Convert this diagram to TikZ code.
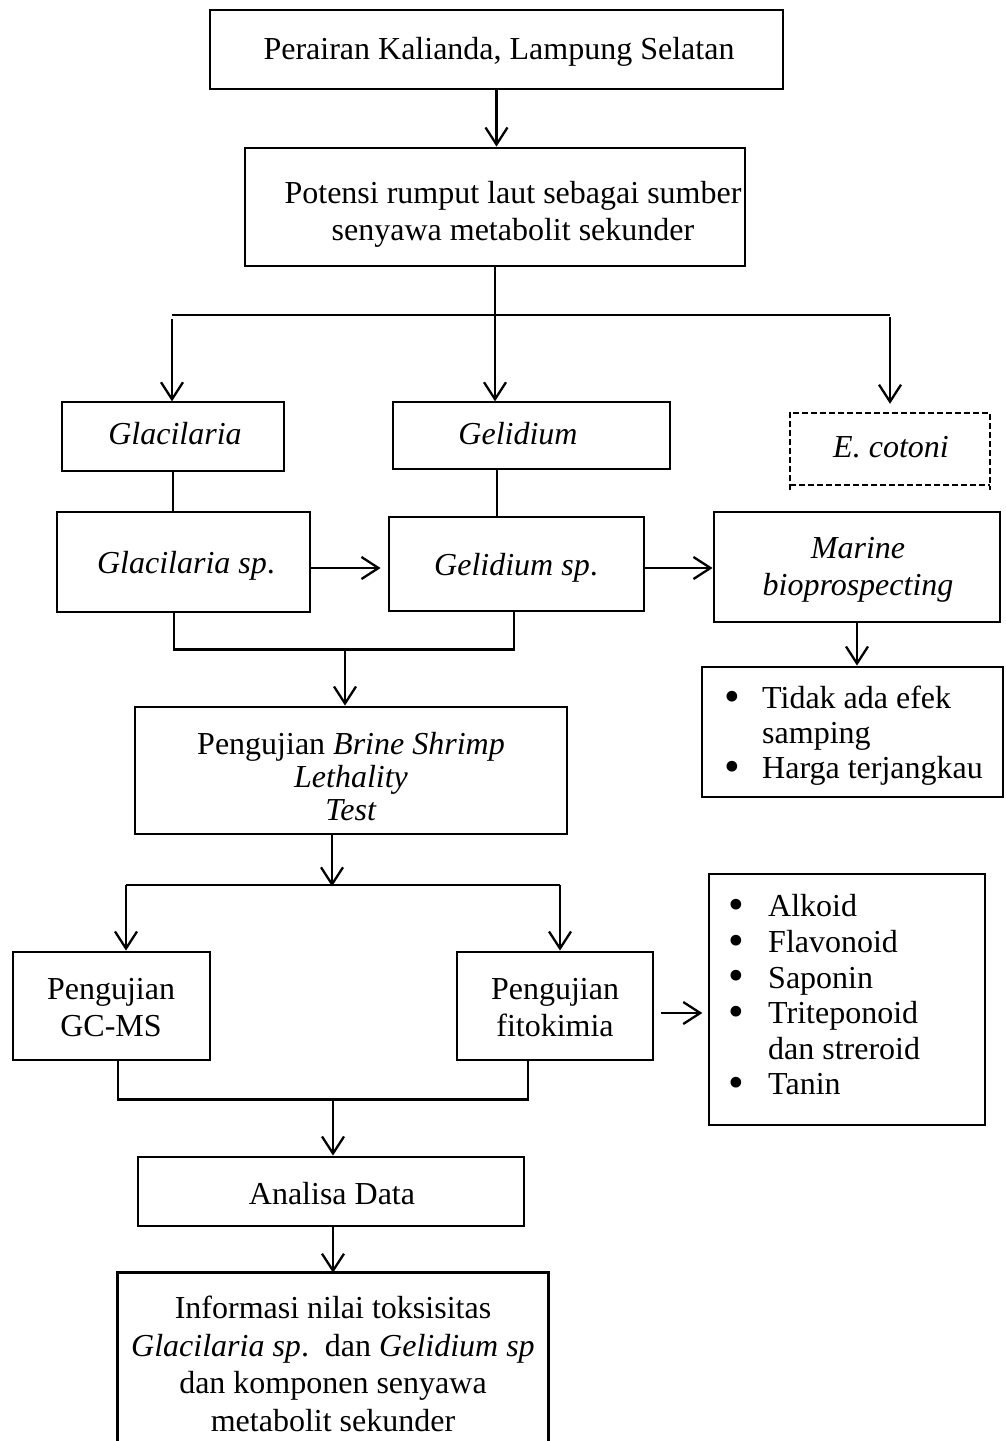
\documentclass[tikz,border=0pt]{standalone}
\usepackage{fontspec}
\usepackage{graphicx}
\setmainfont{Liberation Serif}
\usetikzlibrary{arrows.meta}
\newcommand{\bul}{\smash{\raisebox{-2.5pt}{\scalebox{1.4}{•}}}}
\begin{document}
\begin{tikzpicture}[x=1pt,y=-1pt,
  every node/.style={font=\fontsize{32}{37}\selectfont, inner sep=0pt, align=center},
  thickbox/.style={draw, line width=2.8pt},
  thinbox/.style={draw, line width=1.3pt},
  arr/.style={line width=2.3pt, -{Straight Barb[length=17pt,width=22pt]}},
  ln/.style={line width=2.3pt},
  dashbox/.style={line width=1.6pt, dash pattern=on 6pt off 3pt},
]
\useasboundingbox (0,0) rectangle (1005,1441);

% boxes
\node[thickbox, minimum width=573pt, minimum height=79pt] (b1) at (496.5,49.5) {};
\node (b1t) at (499,52) {Perairan Kalianda, Lampung Selatan};
\node[thickbox, minimum width=500pt, minimum height=118pt] (b2) at (495,207) {};
\node (b2t) at (513,214) {Potensi rumput laut sebagai sumber\\senyawa metabolit sekunder};

\node[thinbox, minimum width=222pt, minimum height=69pt] (gla) at (173,436.5) {};
\node (glat) at (175,434) {\textit{Glacilaria}};
\node[thinbox, minimum width=277pt, minimum height=67pt] (gel) at (531.5,435.5) {};
\node (gelt) at (518,434) {\textit{Gelidium}};
\node[minimum width=200pt, minimum height=72pt] (eco) at (890,449) {};
\node (ecot) at (891,447) {\textit{E. cotoni}};
\draw[dashbox] ([yshift=-5pt]eco.south west) -- (eco.north west) -- (eco.north east) -- ([yshift=-5pt]eco.south east);
\draw[dashbox] (eco.south west) -- (eco.south east);

\node[thickbox, minimum width=253pt, minimum height=100pt] (glasp) at (183.5,562) {};
\node (glaspt) at (186,566) {\textit{Glacilaria sp}.};
\node[thickbox, minimum width=255pt, minimum height=94pt] (gelsp) at (516.5,564) {};
\node (gelspt) at (516,568) {\textit{Gelidium sp}.};
\node[thickbox, minimum width=286pt, minimum height=110pt] (mar) at (857,567) {};
\node (mart) at (858,570) {\textit{Marine}\\\textit{bioprospecting}};
\node[thickbox, minimum width=301pt, minimum height=130pt] (bul1) at (852.5,732) {};
\node[anchor=west, align=left, font=\fontsize{32}{35}\selectfont] (bul1t) at (724,736)
  {\makebox[38pt][l]{\bul}Tidak ada efek\\\hspace*{38pt}samping\\\makebox[38pt][l]{\bul}Harga terjangkau};

\node[thickbox, minimum width=432pt, minimum height=127pt] (bslt) at (351,770.5) {};
\node[font=\fontsize{32}{33}\selectfont] (bsltt) at (351,777) {Pengujian \textit{Brine Shrimp}\\\textit{Lethality}\\\textit{Test}};

\node[thickbox, minimum width=197pt, minimum height=108pt] (gcms) at (111.5,1006) {};
\node (gcmst) at (111,1008) {Pengujian\\GC-MS};
\node[thickbox, minimum width=196pt, minimum height=108pt] (fito) at (555,1006) {};
\node (fitot) at (555,1008) {Pengujian\\fitokimia};
\node[thinbox, minimum width=276pt, minimum height=251pt] (bul2) at (847,999.5) {};
\node[anchor=west, align=left, font=\fontsize{32}{35.6}\selectfont] (bul2t) at (728,995)
  {\makebox[40pt][l]{\bul}Alkoid\\\makebox[40pt][l]{\bul}Flavonoid\\\makebox[40pt][l]{\bul}Saponin\\\makebox[40pt][l]{\bul}Triteponoid\\\hspace*{40pt}dan streroid\\\makebox[40pt][l]{\bul}Tanin};

\node[thickbox, minimum width=386pt, minimum height=69pt] (ana) at (331,1191.5) {};
\node (anat) at (332,1194) {Analisa Data};
\node[minimum width=430pt, minimum height=180pt] (fin) at (333,1363) {};
\draw[line width=2.8pt] (fin.south west) -- (fin.north west) -- (fin.north east) -- (fin.south east);
\node[font=\fontsize{32}{37.7}\selectfont] (fint) at (333,1364)
  {Informasi nilai toksisitas\\\textit{Glacilaria sp}.\ \ dan \textit{Gelidium sp}\\dan komponen senyawa\\metabolit sekunder};

% connectors
\draw[arr] (b1.south) -- (b1.south |- b2.north);
\draw[ln] (b2.south) -- ++(0,49) coordinate (j1);
\coordinate (hl) at (172,315);
\coordinate (hr) at (890,315);
\draw[ln] (hl) -- (hr);
\draw[arr] ([yshift=-4pt]hl) -- (hl |- gla.north);
\draw[arr] (j1) -- (j1 |- gel.north);
\draw[arr, shorten >=9pt] ([yshift=-2pt]hr) -- (hr |- eco.north);

\draw[ln] (gla.south) -- (gla.south |- glasp.north);
\draw[ln] ([xshift=-34.5pt]gel.south) -- ([xshift=-34.5pt]gel.south |- gelsp.north);

\draw[arr, shorten >=7pt] ([yshift=-6pt]glasp.east) -- ([yshift=-6pt]glasp.east -| gelsp.west);
\draw[arr] ([yshift=-4pt]gelsp.east) -- ([yshift=-4pt]gelsp.east -| mar.west);
\draw[arr] (mar.south) -- (mar.south |- bul1.north);

\draw[ln] ([xshift=-9.5pt]glasp.south) -- ++(0,36) coordinate (k1) -- (k1 -| 514,0) coordinate (k3) -- ([xshift=-2.5pt]gelsp.south);
\coordinate (k2) at (345,648);
\draw[arr] (k2) -- (k2 |- bslt.north);

\draw[arr] ([xshift=-19pt]bslt.south) -- ++(0,51) coordinate (m0);
\coordinate (m1) at (126,885);
\coordinate (m2) at (560,885);
\draw[ln] (m1) -- (m2);
\draw[arr] (m1) -- (m1 |- gcms.north);
\draw[arr] (m2) -- (m2 |- fito.north);
\draw[arr, shorten <=7pt, shorten >=6pt] ([yshift=-7pt]fito.east) -- ([yshift=-7pt]fito.east -| bul2.west);

\draw[ln] ([xshift=6.5pt]gcms.south) -- ++(0,38) coordinate (n1) -- (n1 -| 528,0) -- ([xshift=-27pt]fito.south);
\coordinate (n2) at (333,1098);
\draw[arr] (n2) -- (n2 |- ana.north);
\draw[arr] ([xshift=2pt]ana.south) -- ([xshift=2pt]ana.south |- fin.north);
\end{tikzpicture}
\end{document}
